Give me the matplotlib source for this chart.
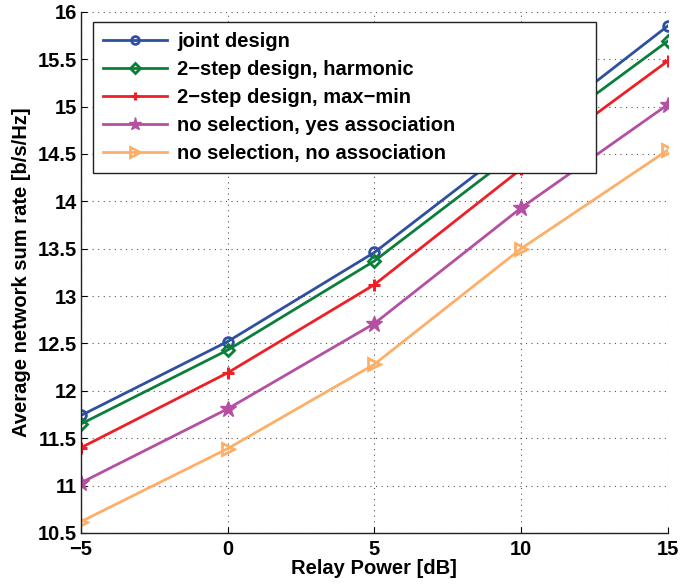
import matplotlib
matplotlib.use("Agg")
import matplotlib.pyplot as plt

# relay power [dB]
relay_power = [-5, 0, 5, 10, 15]

# average network sum rate [b/s/Hz]
joint = [11.74, 12.52, 13.46, 14.65, 15.85]
harmonic = [11.65, 12.43, 13.37, 14.55, 15.69]
maxmin = [11.40, 12.19, 13.12, 14.34, 15.48]
nosel_yes = [11.03, 11.81, 12.71, 13.93, 15.02]
nosel_no = [10.62, 11.39, 12.28, 13.50, 14.54]

labels = ["joint design",
          "2\u2212step design, harmonic",
          "2\u2212step design, max\u2212min",
          "no selection, yes association",
          "no selection, no association"]

plt.rcParams['font.family'] = ['Liberation Sans', 'DejaVu Sans']
plt.rcParams['font.weight'] = 'bold'
plt.rcParams['axes.labelweight'] = 'bold'

fs = 14.5

fig = plt.figure(figsize=(6.8, 5.87), dpi=100)
ax = fig.add_axes([0.119, 0.092, 0.863, 0.888])

lw = 2.0
ax.plot(relay_power, joint, color='#2f4f9f', lw=lw, marker='o', ms=7,
        mfc='none', mew=2, label=labels[0])
ax.plot(relay_power, harmonic, color='#0a7f3a', lw=lw, marker='D', ms=6,
        mfc='none', mew=2, label=labels[1])
ax.plot(relay_power, maxmin, color='#ee1f26', lw=lw, marker='+', ms=8,
        mew=2.2, label=labels[2])
ax.plot(relay_power, nosel_yes, color='#b44fa1', lw=lw, marker='*', ms=12,
        mew=1, label=labels[3])
ax.plot(relay_power, nosel_no, color='#fdaf67', lw=lw, marker='>', ms=9,
        mfc='none', mew=2, label=labels[4])

ax.set_xlim(-5, 15)
ax.set_ylim(10.5, 16)
ax.set_xticks([-5, 0, 5, 10, 15])
ax.set_yticks([10.5 + 0.5 * i for i in range(12)])
ax.set_yticklabels(['10.5', '11', '11.5', '12', '12.5', '13', '13.5',
                    '14', '14.5', '15', '15.5', '16'])

ax.grid(True, linestyle=(0, (1, 4)), color='#555555', lw=0.8)
ax.tick_params(direction='in', labelsize=fs, length=4)
ax.tick_params(axis='x', pad=5)
ax.tick_params(axis='y', pad=3)
for s in ['top', 'right']:
    ax.spines[s].set_visible(False)
for s in ['left', 'bottom']:
    ax.spines[s].set_linewidth(1.0)
    ax.spines[s].set_color('#222222')

ax.set_xlabel('Relay Power [dB]', fontsize=fs, labelpad=0)
ax.set_ylabel('Average network sum rate [b/s/Hz]', fontsize=fs, labelpad=5)

# legend box stretched to the right like the original
leg = ax.legend(loc='upper left', bbox_to_anchor=(0.0204, 0.0, 0.857, 0.981),
                mode='expand', fontsize=fs,
                handlelength=3.2, labelspacing=0.45, borderaxespad=0,
                fancybox=False, framealpha=1, edgecolor='#222222',
                borderpad=0.5, handletextpad=0.5, markerscale=0.8)
leg.get_frame().set_linewidth(1.0)

fig.savefig('out.png', dpi=100)
